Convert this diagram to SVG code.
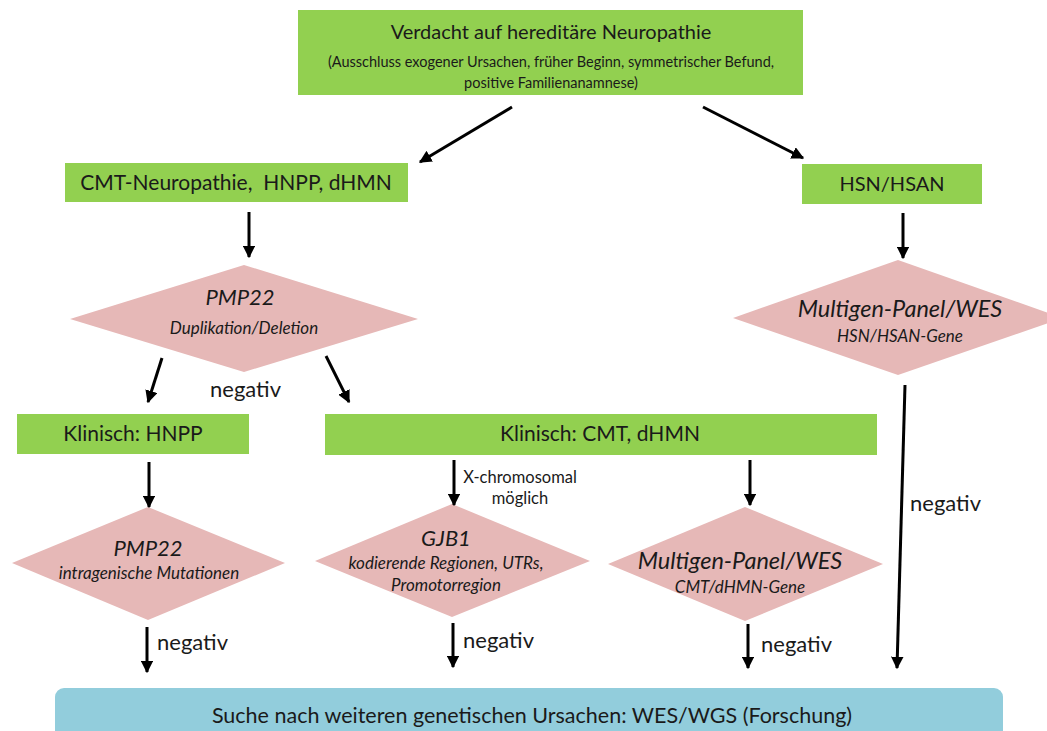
<svg xmlns="http://www.w3.org/2000/svg" width="1047" height="731" viewBox="0 0 1047 731">
<defs>
<marker id="ah" viewBox="0 0 10 10" refX="9" refY="5" markerWidth="4.2" markerHeight="4.2" orient="auto" markerUnits="strokeWidth">
<path d="M0,0 L10,5 L0,10 z" fill="#000"/>
</marker>
<style>
.g{fill:#92D050}
.p{fill:#E6B8B7}
.b{fill:#92CDDC}
text{font-family:Lato,"Open Sans","Liberation Sans",sans-serif;fill:#1a1a1a;text-anchor:middle}
.t21{font-size:21px}
.t14{font-size:14.5px}
.s{font-size:17px}
.i{font-style:italic}
.big{font-size:23.5px}
.neg{font-size:22px;text-anchor:start}
.c line{stroke:#000;stroke-width:3;marker-end:url(#ah)}
</style>
</defs>
<rect width="1047" height="731" fill="#fff"/>

<g id="n-top">
<rect class="g" x="298" y="10" width="505" height="85"/>
<text x="551" y="39" font-size="20">Verdacht auf hereditäre Neuropathie</text>
<text class="t14" x="551" y="67">(Ausschluss exogener Ursachen, früher Beginn, symmetrischer Befund,</text>
<text class="t14" x="551" y="88">positive Familienanamnese)</text>
</g>

<g id="n-cmt">
<rect class="g" x="65" y="163" width="343" height="39"/>
<text class="t21" x="236" y="190" xml:space="preserve">CMT-Neuropathie,  HNPP, dHMN</text>
</g>

<g id="n-hsn">
<rect class="g" x="802" y="164" width="180" height="40"/>
<text x="892" y="191" font-size="20">HSN/HSAN</text>
</g>

<g id="n-pmp22a">
<polygon class="p" points="244,265 418,319 244,372 70,319"/>
<text class="i" x="240" y="305" font-size="22">PMP22</text>
<text class="s i" x="244" y="334">Duplikation/Deletion</text>
</g>

<g id="n-hsnpanel">
<polygon class="p" points="898,260 1063,318 898,375 733,318"/>
<text class="big i" x="900" y="317">Multigen-Panel/WES</text>
<text class="s i" x="900" y="342">HSN/HSAN-Gene</text>
</g>

<g id="n-hnpp">
<rect class="g" x="17" y="414" width="232" height="40"/>
<text class="t21" x="133" y="441">Klinisch: HNPP</text>
</g>

<g id="n-cmtdhmn">
<rect class="g" x="325" y="414" width="552" height="41"/>
<text class="t21" x="600" y="441">Klinisch: CMT, dHMN</text>
</g>

<g id="n-pmp22b">
<polygon class="p" points="148,507 285,563 148,620 12,563"/>
<text class="i" x="148" y="556" font-size="22">PMP22</text>
<text class="s i" x="149" y="579">intragenische Mutationen</text>
</g>

<g id="n-gjb1">
<polygon class="p" points="452,504 590,561 452,617 315,561"/>
<text class="i" x="446" y="546" font-size="22">GJB1</text>
<text class="s i" x="446" y="569">kodierende Regionen, UTRs,</text>
<text class="s i" x="446" y="591">Promotorregion</text>
</g>

<g id="n-cmtpanel">
<polygon class="p" points="745,507 883,564 745,621 608,564"/>
<text class="big i" x="740" y="569">Multigen-Panel/WES</text>
<text class="s i" x="740" y="593">CMT/dHMN-Gene</text>
</g>

<g id="n-bottom">
<rect class="b" x="55" y="688" width="948" height="60" rx="9"/>
<text x="532" y="723" font-size="21.5">Suche nach weiteren genetischen Ursachen: WES/WGS (Forschung)</text>
</g>

<g id="connectors" class="c">
<line x1="512" y1="107" x2="420" y2="162"/>
<line x1="703" y1="107" x2="803" y2="158"/>
<line x1="249" y1="212" x2="249" y2="257"/>
<line x1="903" y1="213" x2="903" y2="258"/>
<line x1="162" y1="358" x2="148" y2="402"/>
<line x1="326" y1="356" x2="349" y2="402"/>
<line x1="149" y1="462" x2="149" y2="507"/>
<line x1="454" y1="460" x2="454" y2="505"/>
<line x1="750" y1="460" x2="750" y2="505"/>
<line x1="147" y1="627" x2="147" y2="672"/>
<line x1="453" y1="623" x2="453" y2="667"/>
<line x1="748" y1="624" x2="748" y2="668"/>
<line x1="905" y1="385" x2="897" y2="668"/>
</g>

<g id="labels">
<text class="neg" x="210" y="397">negativ</text>
<text x="520" y="483" font-size="16.5">X-chromosomal</text>
<text x="520" y="504" font-size="16.5">möglich</text>
<text class="neg" x="157" y="650">negativ</text>
<text class="neg" x="463" y="648">negativ</text>
<text class="neg" x="761" y="652">negativ</text>
<text class="neg" x="910" y="511">negativ</text>
</g>
</svg>
